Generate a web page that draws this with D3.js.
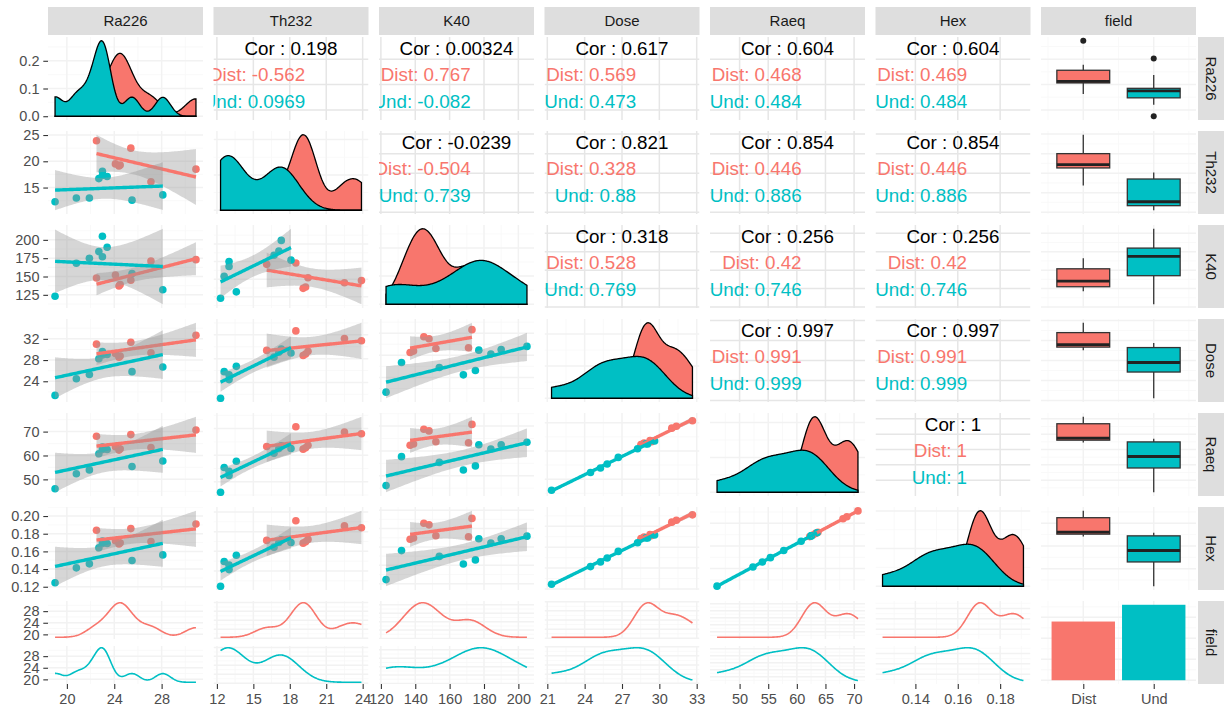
<!DOCTYPE html>
<html>
<head>
<meta charset="utf-8">
<script src="https://cdn.jsdelivr.net/npm/d3@7"></script>
<style>
  body { margin: 0; background: #fff; }
</style>
</head>
<body>
<div id="container"></div>
<script>
/* DATA - one entry per sample */
const field = ["Dist","Dist","Dist","Dist","Dist","Dist","Dist",
               "Und","Und","Und","Und","Und","Und","Und","Und","Und"];
const ra226 = [22.5, 25.4, 24.1, 24.4, 27.1, 30.9, 24.5,
               19.0, 20.8, 21.9, 22.7, 23.0, 23.0, 23.4, 25.5, 28.1];
const th232 = [23.9, 22.5, 19.5, 19.1, 16.1, 18.5, 19.3,
               12.3, 13.0, 13.0, 16.7, 18.1, 17.3, 17.1, 12.6, 13.6];
const k40   = [148, 145, 152, 137, 171, 173, 139,
               123, 168, 175, 184, 177, 205, 190, 154, 132];
const dose  = [31.00, 31.37, 29.25, 28.52, 29.38, 32.66, 28.77,
               21.34, 24.47, 25.27, 28.25, 28.94, 29.62, 29.06, 25.81, 26.70];
const raeq  = [68.07, 68.74, 63.69, 62.26, 63.29, 70.68, 62.80,
               46.06, 52.33, 53.97, 60.75, 62.51, 63.52, 62.48, 55.38, 57.71];
const hex   = [0.1840, 0.1858, 0.1721, 0.1683, 0.1711, 0.1910, 0.1697,
               0.1245, 0.1414, 0.1459, 0.1642, 0.1689, 0.1717, 0.1689, 0.1497, 0.1560];

const varNames = ["Ra226", "Th232", "K40", "Dose", "Raeq", "Hex"];
const groups = ["Dist", "Und"];

// axis breaks (tick labels as printed)
const breaksRa226 = [20, 24, 28];
const breaksTh232 = [12, 15, 18, 21, 24];
const breaksK40   = [120, 140, 160, 180, 200];
const breaksDose  = [21, 24, 27, 30, 33];
const breaksRaeq  = [50, 55, 60, 65, 70];
const breaksHex   = [0.14, 0.16, 0.18];

// left axis labels of each row
const densTicks  = [0, 0.1, 0.2];
const rowTicksTh232 = [15, 20, 25];
const rowTicksK40   = [125, 150, 175, 200];
const rowTicksDose  = [24, 28, 32];
const rowTicksRaeq  = [50, 60, 70];
const rowTicksHex   = [0.12, 0.14, 0.16, 0.18, 0.20];
const facetTicks = [20, 24, 28];

// correlation labels of the upper panels, row by row
const corTotal = ["0.198", "0.00324", "0.617", "0.604", "0.604",
                  "-0.0239", "0.821", "0.854", "0.854",
                  "0.318", "0.256", "0.256",
                  "0.997", "0.997",
                  "1"];
const corDist  = ["-0.562", "0.767", "0.569", "0.468", "0.469",
                  "-0.504", "0.328", "0.446", "0.446",
                  "0.528", "0.42", "0.42",
                  "0.991", "0.991",
                  "1"];
const corUnd   = ["0.0969", "-0.082", "0.473", "0.484", "0.484",
                  "0.739", "0.88", "0.886", "0.886",
                  "0.769", "0.746", "0.746",
                  "0.999", "0.999",
                  "1"];

/* CONSTANTS */
const width = 1224, height = 710;
const X0 = 48, Y0 = 37, PW = 155, PH = 83, DX = 165.5, DY = 94;
const FONT = '"Liberation Sans", Arial, Helvetica, sans-serif';
const RED = "#F8766D", TEAL = "#00BFC4";
const colorOf = g => g === "Dist" ? RED : TEAL;
const tq = {5: 2.5706, 7: 2.3646};   // t(0.975, df)

const values = [ra226, th232, k40, dose, raeq, hex];
const breaks = [breaksRa226, breaksTh232, breaksK40, breaksDose, breaksRaeq, breaksHex];
const rowTicks = [densTicks, rowTicksTh232, rowTicksK40, rowTicksDose, rowTicksRaeq, rowTicksHex];

const px = c => X0 + c * DX;
const py = r => Y0 + r * DY;
const expand = ([a, b]) => [a - (b - a) * 0.05, b + (b - a) * 0.05];
const byGroup = (v, g) => v.filter((d, k) => field[k] === g);
const inDom = (arr, dom) => arr.filter(v => v >= Math.min(...dom) - 1e-9 && v <= Math.max(...dom) + 1e-9);

const xScales = values.map(v => d3.scaleLinear().domain(expand(d3.extent(v))).range([0, PW]));

// STATS
function lmFit(x, y) {
  const n = x.length, mx = d3.mean(x), my = d3.mean(y);
  const sxx = d3.sum(x, v => (v - mx) ** 2);
  const sxy = d3.sum(x.map((v, k) => (v - mx) * (y[k] - my)));
  const b = sxy / sxx, a = my - b * mx;
  const rss = d3.sum(x.map((v, k) => (y[k] - a - b * v) ** 2));
  const s = Math.sqrt(rss / (n - 2)), t = tq[n - 2];
  const [x0, x1] = d3.extent(x);
  return d3.range(80).map(k => {
    const xv = x0 + (x1 - x0) * k / 79, f = a + b * xv;
    const se = s * Math.sqrt(1 / n + (xv - mx) ** 2 / sxx);
    return {x: xv, y: f, lo: f - t * se, hi: f + t * se};
  });
}

function kde(sample, lo, hi) {
  const s = sample.slice().sort(d3.ascending), n = s.length;
  const bw = 0.9 * Math.min(d3.deviation(s), (d3.quantile(s, 0.75) - d3.quantile(s, 0.25)) / 1.34) * Math.pow(n, -0.2);
  return d3.range(201).map(k => {
    const x = lo + (hi - lo) * k / 200;
    const d = d3.sum(s, p => Math.exp(-0.5 * ((x - p) / bw) ** 2)) / (n * bw * Math.sqrt(2 * Math.PI));
    return {x: x, y: d};
  });
}

function boxStats(v) {
  const s = v.slice().sort(d3.ascending);
  const q1 = d3.quantile(s, 0.25), med = d3.quantile(s, 0.5), q3 = d3.quantile(s, 0.75);
  const iqr = q3 - q1, lf = q1 - 1.5 * iqr, hf = q3 + 1.5 * iqr;
  return {q1, med, q3,
    lo: d3.min(s.filter(d => d >= lf)), hi: d3.max(s.filter(d => d <= hf)),
    out: s.filter(d => d < lf || d > hf)};
}

// CREATE SVG ELEMENT
const svg = d3.select("#container").append("svg")
  .attr("width", width).attr("height", height)
  .style("background", "#fff");
const defs = svg.append("defs");

let clipN = 0;
function makePanel(x, y, w, h) {
  const id = "clip" + (clipN++);
  defs.append("clipPath").attr("id", id).append("rect").attr("width", w).attr("height", h);
  return svg.append("g").attr("transform", `translate(${x},${y})`)
    .append("g").attr("clip-path", `url(#${id})`);
}

function minorOf(b, dom) {
  if (b.length < 2) return [];
  const st = b[1] - b[0], out = [];
  for (let v = b[0] - st * 10.5; v <= dom[1]; v += st) if (v >= dom[0]) out.push(v);
  return out;
}

function faintGrid(g, xs, ys, xb, yb, w, h) {
  const xd = xs.domain(), yd = ys.domain();
  const xmin = minorOf(xb, xd), ymin = minorOf(yb, [Math.min(...yd), Math.max(...yd)]);
  g.selectAll(null).data(xmin).join("line").attr("x1", xs).attr("x2", xs).attr("y1", 0).attr("y2", h)
    .attr("stroke", "#F7F7F7").attr("stroke-width", 0.8);
  g.selectAll(null).data(ymin).join("line").attr("y1", ys).attr("y2", ys).attr("x1", 0).attr("x2", w)
    .attr("stroke", "#F7F7F7").attr("stroke-width", 0.8);
  g.selectAll(null).data(inDom(xb, xd)).join("line").attr("x1", xs).attr("x2", xs).attr("y1", 0).attr("y2", h)
    .attr("stroke", "#F2F2F2").attr("stroke-width", 1.5);
  g.selectAll(null).data(inDom(yb, yd)).join("line").attr("y1", ys).attr("y2", ys).attr("x1", 0).attr("x2", w)
    .attr("stroke", "#F2F2F2").attr("stroke-width", 1.5);
}

const leftScales = [];

// PANELS
let corIdx = 0;
for (let i = 0; i < 6; i++) {
  for (let j = 0; j < 6; j++) {
    const g = makePanel(px(j), py(i), PW, PH);
    const xs = xScales[j];

    if (i === j) {
      // DIAGONAL DENSITY
      const ext = d3.extent(values[i]);
      const dens = groups.map(gr => kde(byGroup(values[i], gr), ext[0], ext[1]));
      const ymax = d3.max(dens, d => d3.max(d, p => p.y));
      const ys = d3.scaleLinear().domain(expand([0, ymax])).range([PH, 0]);
      faintGrid(g, xs, ys, breaks[j], ys.ticks(3), PW, PH);
      const areaGen = d3.area().x(d => xs(d.x)).y0(ys(0)).y1(d => ys(d.y));
      groups.forEach((gr, k) => {
        g.append("path").attr("d", areaGen(dens[k]))
          .attr("fill", colorOf(gr)).attr("stroke", "#000").attr("stroke-width", 1.3);
      });
      if (j === 0) leftScales[i] = {scale: ys, ticks: densTicks, fmt: d3.format(".1f")};
    } else if (i > j) {
      // SCATTER + LM
      const fits = groups.map(gr => lmFit(byGroup(values[j], gr), byGroup(values[i], gr)));
      const yAll = values[i].concat(...fits.map(f => f.flatMap(p => [p.lo, p.hi])));
      const ys = d3.scaleLinear().domain(expand(d3.extent(yAll))).range([PH, 0]);
      faintGrid(g, xs, ys, breaks[j], rowTicks[i], PW, PH);
      g.selectAll(".pt").data(values[j].map((v, k) => ({x: v, y: values[i][k], f: field[k]})))
        .join("circle").attr("class", "pt")
        .attr("cx", d => xs(d.x)).attr("cy", d => ys(d.y)).attr("r", 3.8)
        .attr("fill", d => colorOf(d.f));
      const ribbon = d3.area().x(d => xs(d.x)).y0(d => ys(d.lo)).y1(d => ys(d.hi));
      const lineGen = d3.line().x(d => xs(d.x)).y(d => ys(d.y));
      groups.forEach((gr, k) => {
        g.append("path").attr("d", ribbon(fits[k])).attr("fill", "#999999").attr("fill-opacity", 0.4);
        g.append("path").attr("d", lineGen(fits[k])).attr("fill", "none")
          .attr("stroke", colorOf(gr)).attr("stroke-width", 3.4);
      });
      if (j === 0) leftScales[i] = {scale: ys, ticks: rowTicks[i], fmt: i === 5 ? d3.format(".2f") : d3.format("")};
    } else {
      // CORRELATION TEXT
      const xr = d3.extent(values[j]), yr = d3.extent(values[i]);
      const ys = d3.scaleLinear().domain(expand(yr)).range([PH, 0]);
      g.selectAll(null).data(inDom(breaks[j], xs.domain())).join("line")
        .attr("x1", xs).attr("x2", xs).attr("y1", 0).attr("y2", PH)
        .attr("stroke", "#E6E6E6").attr("stroke-width", 1.5);
      g.selectAll(null).data(inDom(breaks[i], ys.domain())).join("line")
        .attr("y1", ys).attr("y2", ys).attr("x1", 0).attr("x2", PW)
        .attr("stroke", "#E6E6E6").attr("stroke-width", 1.5);
      const yAt = p => ys(yr[0] + p * (yr[1] - yr[0]));
      const xAt = p => xs(xr[0] + p * (xr[1] - xr[0]));
      const txt = (x, y, s, col, anchor) => g.append("text").attr("x", x).attr("y", y).attr("dy", "0.36em")
        .attr("text-anchor", anchor).attr("fill", col).attr("font-family", FONT).attr("font-size", 18.8).text(s);
      txt(xAt(0.5), yAt(0.9), "Cor : " + corTotal[corIdx], "#000", "middle");
      txt(xAt(0.6), yAt(0.55), "Dist: " + corDist[corIdx], RED, "end");
      txt(xAt(0.6), yAt(0.2), "Und: " + corUnd[corIdx], TEAL, "end");
      corIdx++;
    }
  }

  // BOXPLOT IN FIELD COLUMN
  const g = makePanel(px(6), py(i), PW, PH);
  const ys = d3.scaleLinear().domain(expand(d3.extent(values[i]))).range([PH, 0]);
  const xd = d3.scaleLinear().domain([0.4, 2.6]).range([0, PW]);
  faintGrid(g, xd, ys, [1, 2], breaks[i], PW, PH);
  groups.forEach((gr, k) => {
    const st = boxStats(byGroup(values[i], gr));
    const cx = xd(k + 1), bw = xd(1.375) - xd(1);
    g.append("line").attr("x1", cx).attr("x2", cx).attr("y1", ys(st.hi)).attr("y2", ys(st.q3))
      .attr("stroke", "#333").attr("stroke-width", 1.3);
    g.append("line").attr("x1", cx).attr("x2", cx).attr("y1", ys(st.q1)).attr("y2", ys(st.lo))
      .attr("stroke", "#333").attr("stroke-width", 1.3);
    g.append("rect").attr("x", cx - bw).attr("width", 2 * bw)
      .attr("y", ys(st.q3)).attr("height", ys(st.q1) - ys(st.q3))
      .attr("fill", colorOf(gr)).attr("stroke", "#333").attr("stroke-width", 1.3);
    g.append("line").attr("x1", cx - bw).attr("x2", cx + bw).attr("y1", ys(st.med)).attr("y2", ys(st.med))
      .attr("stroke", "#222").attr("stroke-width", 2.8);
    g.selectAll(null).data(st.out).join("circle")
      .attr("cx", cx).attr("cy", ys).attr("r", 3).attr("fill", "#222");
  });
}

// BOTTOM ROW: FACET DENSITIES
const FGAP = 7, FH = (PH - FGAP) / 2;
const facetScales = [];
for (let j = 0; j < 6; j++) {
  const ext = d3.extent(values[j]);
  groups.forEach((gr, k) => {
    const g = makePanel(px(j), py(6) + k * (FH + FGAP), PW, FH);
    const ys = d3.scaleLinear().domain(expand(ext)).range([FH, 0]);
    faintGrid(g, xScales[j], ys, breaks[j], breaks[j], PW, FH);
    const dens = kde(byGroup(values[j], gr), ext[0], ext[1]);
    const m = d3.max(dens, d => d.y);
    const lineGen = d3.line().x(d => xScales[j](d.x)).y(d => ys(d.y / m * (ext[1] - ext[0]) + ext[0]));
    g.append("path").attr("d", lineGen(dens)).attr("fill", "none")
      .attr("stroke", colorOf(gr)).attr("stroke-width", 1.6);
    if (j === 0) facetScales[k] = ys;
  });
}

// BAR CHART OF FIELD
{
  const g = makePanel(px(6), py(6), PW, PH);
  const counts = groups.map(gr => field.filter(f => f === gr).length);
  const xd = d3.scaleLinear().domain([0.4, 2.6]).range([0, PW]);
  const ys = d3.scaleLinear().domain(expand([0, d3.max(counts)])).range([PH, 0]);
  faintGrid(g, xd, ys, [1, 2], [0, 2.5, 5, 7.5], PW, PH);
  g.selectAll(".bar").data(groups).join("rect").attr("class", "bar")
    .attr("x", (d, k) => xd(k + 1 - 0.45)).attr("width", xd(1.45) - xd(0.55))
    .attr("y", (d, k) => ys(counts[k])).attr("height", (d, k) => ys(0) - ys(counts[k]))
    .attr("fill", d => colorOf(d));
}

// STRIPS
const stripNames = varNames.concat(["field"]);
stripNames.forEach((name, c) => {
  svg.append("rect").attr("x", px(c)).attr("y", 7).attr("width", PW).attr("height", 28).attr("fill", "#DEDEDE");
  svg.append("text").attr("x", px(c) + PW / 2).attr("y", 21).attr("dy", "0.36em")
    .attr("text-anchor", "middle").attr("font-family", FONT).attr("font-size", 15).attr("fill", "#1A1A1A").text(name);
});
stripNames.forEach((name, r) => {
  svg.append("rect").attr("x", 1198).attr("y", py(r)).attr("width", 26).attr("height", PH).attr("fill", "#DEDEDE");
  svg.append("text").attr("transform", `translate(${1211},${py(r) + PH / 2}) rotate(90)`).attr("dy", "0.36em")
    .attr("text-anchor", "middle").attr("font-family", FONT).attr("font-size", 15).attr("fill", "#1A1A1A").text(name);
});

// BUILD AND CALL AXES
function styleAxis(sel) {
  sel.attr("font-family", FONT).attr("font-size", 14.5);
  sel.select(".domain").remove();
  sel.selectAll("line").attr("stroke", "#333").attr("stroke-width", 1.1);
  sel.selectAll("text").attr("fill", "#4D4D4D");
}

leftScales.forEach((ls, r) => {
  svg.append("g").attr("transform", `translate(${px(0)},${py(r)})`)
    .call(d3.axisLeft(ls.scale).tickValues(inDom(ls.ticks, ls.scale.domain())).tickFormat(ls.fmt)
      .tickSize(4.7).tickPadding(3.8))
    .call(styleAxis);
});
facetScales.forEach((ys, k) => {
  svg.append("g").attr("transform", `translate(${px(0)},${py(6) + k * (FH + FGAP)})`)
    .call(d3.axisLeft(ys).tickValues(facetTicks).tickSize(4.7).tickPadding(3.8))
    .call(styleAxis);
});

xScales.forEach((xs, c) => {
  svg.append("g").attr("transform", `translate(${px(c)},${py(6) + PH})`)
    .call(d3.axisBottom(xs).tickValues(inDom(breaks[c], xs.domain()))
      .tickFormat(c === 5 ? d3.format(".2f") : d3.format(""))
      .tickSize(5).tickPadding(5))
    .call(styleAxis);
});
{
  const xd = d3.scaleLinear().domain([0.4, 2.6]).range([0, PW]);
  svg.append("g").attr("transform", `translate(${px(6)},${py(6) + PH})`)
    .call(d3.axisBottom(xd).tickValues([1, 2]).tickFormat(d => groups[d - 1]).tickSize(5).tickPadding(5))
    .call(styleAxis);
}
</script>
</body>
</html>
